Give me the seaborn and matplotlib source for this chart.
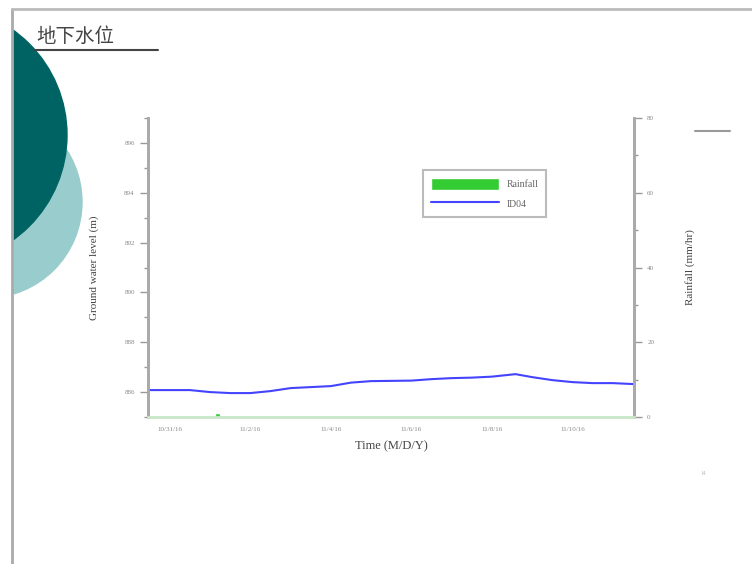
import pandas as pd
import numpy as np
import matplotlib as mpl
import matplotlib.pyplot as plt
import matplotlib.dates as mdates
from matplotlib.patches import Circle, Rectangle
from matplotlib.lines import Line2D
import seaborn as sb

mpl.use('Agg')

# groundwater level of well ID04, half-day readings (m)
level_time = ['2016-10-30 11:00', '2016-10-31 12:00', '2016-11-01 00:00', '2016-11-01 12:00',
              '2016-11-02 00:00', '2016-11-02 12:00', '2016-11-03 00:00', '2016-11-03 12:00',
              '2016-11-04 00:00', '2016-11-04 12:00', '2016-11-05 00:00', '2016-11-05 12:00',
              '2016-11-06 00:00', '2016-11-06 12:00', '2016-11-07 00:00', '2016-11-07 12:00',
              '2016-11-08 00:00', '2016-11-08 14:00', '2016-11-09 00:00', '2016-11-09 12:00',
              '2016-11-10 00:00', '2016-11-10 12:00', '2016-11-11 00:00', '2016-11-11 12:40']
level_id04 = [886.08, 886.08, 886.00, 885.96, 885.96, 886.04, 886.16, 886.20,
              886.24, 886.38, 886.44, 886.45, 886.46, 886.52, 886.56, 886.58,
              886.62, 886.72, 886.60, 886.48, 886.40, 886.36, 886.36, 886.32]

# rainfall (mm/hr)
rain_time = ['2016-10-31 12:00', '2016-11-01 04:30', '2016-11-03 00:00', '2016-11-06 00:00', '2016-11-09 00:00']
rain_mm = [0.0, 1.2, 0.0, 0.0, 0.0]

date_ticks = ['2016-10-31', '2016-11-02', '2016-11-04', '2016-11-06', '2016-11-08', '2016-11-10']
date_labels = ['10/31/16', '11/2/16', '11/4/16', '11/6/16', '11/8/16', '11/10/16']

sb.set_theme(style="white")
plt.rcParams['font.family'] = ['Liberation Serif', 'DejaVu Serif']

df = pd.DataFrame({'time': pd.to_datetime(level_time), 'level': level_id04})
df_rain = pd.DataFrame({'time': pd.to_datetime(rain_time), 'rain': rain_mm})

fig = plt.figure(figsize=(7.52, 5.64), dpi=100)

# slide decoration: frame and circles
clip = Rectangle((13 / 752, 0), 1, 1, transform=fig.transFigure, visible=False)
fig.add_artist(clip)
c_light = Circle((-14, 564 - 202), 96, transform=None, color='#99cccc', zorder=0)
c_dark = Circle((-62, 564 - 135), 129, transform=None, color='#006363', zorder=0)
for c in [c_light, c_dark]:
    c.set_clip_path(clip)
    fig.add_artist(c)
fig.add_artist(Line2D([12 / 752, 12 / 752], [0, 1 - 9 / 564], transform=fig.transFigure, color='#aaaaaa', lw=2))
fig.add_artist(Line2D([12 / 752, 1], [1 - 9 / 564, 1 - 9 / 564], transform=fig.transFigure, color='#bbbbbb', lw=2))
fig.text(36 / 752, 1 - 36 / 564, '地下水位', fontsize=14, color='#444444', va='center',
         family=['Noto Sans CJK TC', 'DejaVu Sans'])
fig.add_artist(Line2D([34 / 752, 158 / 752], [1 - 50 / 564, 1 - 50 / 564], transform=fig.transFigure, color='#444444', lw=1.5))
fig.add_artist(Line2D([695 / 752, 730 / 752], [1 - 131 / 564, 1 - 131 / 564], transform=fig.transFigure, color='#999999', lw=1.5))
fig.text(700 / 752, 1 - 475 / 564, '14', fontsize=4, color='#bbbbbb')

ax = fig.add_axes([148 / 752, 1 - 417 / 564, 486 / 752, 299 / 564])
ax2 = ax.twinx()

ax2.bar(df_rain['time'], df_rain['rain'], width=0.12, color='#33cc33', label='Rainfall')
sb.lineplot(x='time', y='level', data=df, ax=ax, color='#4444ff', linewidth=1.5, label='ID04')
ax.set_zorder(ax2.get_zorder() + 1)
ax.patch.set_visible(False)

ax.set_ylim(885, 897)
ax.set_yticks([886, 888, 890, 892, 894, 896])
ax.set_yticks(np.arange(885, 898, 1), minor=True)
ax2.set_ylim(0, 80)
ax2.set_yticks([0, 20, 40, 60, 80])
ax2.set_yticks(np.arange(0, 81, 10), minor=True)
ax.set_xlim(pd.Timestamp('2016-10-30 11:00'), pd.Timestamp('2016-11-11 12:40'))
ax.set_xticks(pd.to_datetime(date_ticks))
ax.set_xticklabels(date_labels)
ax.xaxis.set_minor_locator(mdates.DayLocator())

for a in [ax, ax2]:
    a.tick_params(which='both', labelsize=5, colors='#999999', labelcolor='#888888', length=3, width=1)
    a.tick_params(which='major', length=6)
    for s in a.spines.values():
        s.set_color('#aaaaaa')
        s.set_linewidth(2)
    a.spines['top'].set_visible(False)
ax.spines['bottom'].set_color('#c8e6c8')
ax2.spines['bottom'].set_visible(False)
ax.tick_params(axis='x', which='both', length=4)
ax.tick_params(axis='y', which='both', left=True)
ax2.tick_params(axis='y', which='both', right=True)

ax.set_xlabel('Time (M/D/Y)', fontsize=9, color='#444444', labelpad=6)
ax.set_ylabel('Ground water level (m)', fontsize=8, color='#444444', labelpad=18)
ax2.set_ylabel('Rainfall (mm/hr)', fontsize=8, color='#444444', labelpad=22)
ax.grid(False)
ax2.grid(False)

if ax.get_legend() is not None:
    ax.get_legend().remove()
h1, l1 = ax2.get_legend_handles_labels()
h2, l2 = ax.get_legend_handles_labels()
leg = fig.legend(h1 + h2, l1 + l2, loc='upper left', bbox_to_anchor=(423 / 752, 1 - 170 / 564),
                 fontsize=7, frameon=True, fancybox=False, handlelength=7, handleheight=1.6,
                 borderpad=0.8, labelspacing=0.7, handletextpad=0.8, borderaxespad=0)
leg.get_frame().set_edgecolor('#aaaaaa')
leg.get_frame().set_linewidth(1.5)
for t in leg.get_texts():
    t.set_color('#666666')

fig.savefig('out.png', dpi=100)
